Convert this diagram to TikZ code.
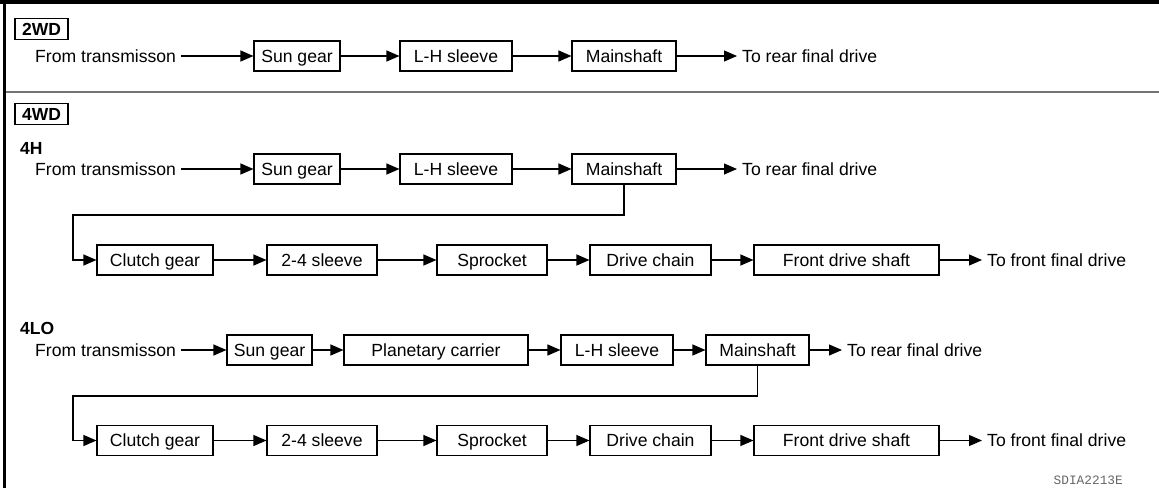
\documentclass[tikz,border=0pt]{standalone}
\usepackage{fontspec}
\setmainfont{Liberation Sans}
\setmonofont{Liberation Mono}
\usetikzlibrary{arrows.meta}
\begin{document}
\begin{tikzpicture}[x=1pt,y=-1pt,
  txt/.style={inner sep=0pt, font=\fontsize{17.6}{20}\selectfont, text height=12.6pt, text depth=0pt},
  box/.style={txt, draw, line width=1.1pt, minimum height=30pt},
  lbl/.style={inner sep=0pt, font=\fontsize{17.5}{20}\selectfont\bfseries, text height=12.5pt, text depth=0pt},
  tag/.style={lbl, draw, line width=1.4pt, minimum width=53pt, minimum height=21pt},
  arr/.style={line width=1.1pt, -{Triangle[length=13pt,width=11pt]}},
  frame/.style={line width=4pt, line cap=butt},
  sep/.style={line width=2pt, draw=black!55}]
\useasboundingbox (0,0) rectangle (1159,488);
% frame
\draw[frame] (0,2) -- (1159,2);
\draw[line width=3pt] (4.5,0) -- (4.5,488);
\draw[sep] (6,92) -- (1159,92);

% ---------- 2WD ----------
\node[tag] (t2wd) at (41.5,29) {2WD};
\node[txt, anchor=west] (a1) at (35,56) {From transmisson};
\node[box, minimum width=86pt] (a2) at (297,56) {Sun gear};
\node[box, minimum width=112pt] (a3) at (456,56) {L-H sleeve};
\node[box, minimum width=104pt] (a4) at (624,56) {Mainshaft};
\node[txt, anchor=west] (a5) at (742,56) {To rear final drive};
\draw[arr, shorten <=5pt] (a1) -- (a2);
\draw[arr] (a2) -- (a3);
\draw[arr] (a3) -- (a4);
\draw[arr, shorten >=5pt] (a4) -- (a5);

% ---------- 4WD ----------
\node[tag] (t4wd) at (41.5,114) {4WD};

% 4H
\node[lbl, anchor=west] (h0) at (20,148) {4H};
\node[txt, anchor=west] (h1) at (35,169) {From transmisson};
\node[box, minimum width=86pt] (h2) at (297,169) {Sun gear};
\node[box, minimum width=112pt] (h3) at (456,169) {L-H sleeve};
\node[box, minimum width=104pt] (h4) at (624,169) {Mainshaft};
\node[txt, anchor=west] (h5) at (742,169) {To rear final drive};
\draw[arr, shorten <=5pt] (h1) -- (h2);
\draw[arr] (h2) -- (h3);
\draw[arr] (h3) -- (h4);
\draw[arr, shorten >=5pt] (h4) -- (h5);

\coordinate (hl) at (73,215);
\node[box, minimum width=116pt] (hb1) at (155,260) {Clutch gear};
\node[box, minimum width=110pt] (hb2) at (322,260) {2-4 sleeve};
\node[box, minimum width=110pt] (hb3) at (492,260) {Sprocket};
\node[box, minimum width=121pt] (hb4) at (650.5,260) {Drive chain};
\node[box, minimum width=185pt] (hb5) at (846.5,260) {Front drive shaft};
\node[txt, anchor=west] (hb6) at (987,260) {To front final drive};
\draw[arr] (h4.south) |- (hl) |- (hb1.west);
\draw[arr] (hb1) -- (hb2);
\draw[arr] (hb2) -- (hb3);
\draw[arr] (hb3) -- (hb4);
\draw[arr] (hb4) -- (hb5);
\draw[arr, shorten >=5pt] (hb5) -- (hb6);

% 4LO
\node[lbl, anchor=west] (l0) at (20,328.7) {4LO};
\node[txt, anchor=west] (l1) at (35,350) {From transmisson};
\node[box, minimum width=85pt] (l2) at (269.5,350) {Sun gear};
\node[box, minimum width=184pt] (l3) at (436,350) {Planetary carrier};
\node[box, minimum width=112pt] (l4) at (617,350) {L-H sleeve};
\node[box, minimum width=103pt] (l5) at (757.5,350) {Mainshaft};
\node[txt, anchor=west] (l6) at (847,350) {To rear final drive};
\draw[arr, shorten <=5pt] (l1) -- (l2);
\draw[arr] (l2) -- (l3);
\draw[arr] (l3) -- (l4);
\draw[arr] (l4) -- (l5);
\draw[arr, shorten >=5pt] (l5) -- (l6);

\coordinate (ll) at (73,396);
\node[box, minimum width=116pt] (lb1) at (155,440.5) {Clutch gear};
\node[box, minimum width=110pt] (lb2) at (322,440.5) {2-4 sleeve};
\node[box, minimum width=110pt] (lb3) at (492,440.5) {Sprocket};
\node[box, minimum width=121pt] (lb4) at (650.5,440.5) {Drive chain};
\node[box, minimum width=185pt] (lb5) at (846.5,440.5) {Front drive shaft};
\node[txt, anchor=west] (lb6) at (987,440.5) {To front final drive};
\draw[arr] (l5.south) |- (ll) |- (lb1.west);
\draw[arr] (lb1) -- (lb2);
\draw[arr] (lb2) -- (lb3);
\draw[arr] (lb3) -- (lb4);
\draw[arr] (lb4) -- (lb5);
\draw[arr, shorten >=5pt] (lb5) -- (lb6);

\node[anchor=east, inner sep=0pt, text=black!60, font=\fontsize{12.8}{14}\ttfamily] (code) at (1123,480) {SDIA2213E};
\end{tikzpicture}
\end{document}
